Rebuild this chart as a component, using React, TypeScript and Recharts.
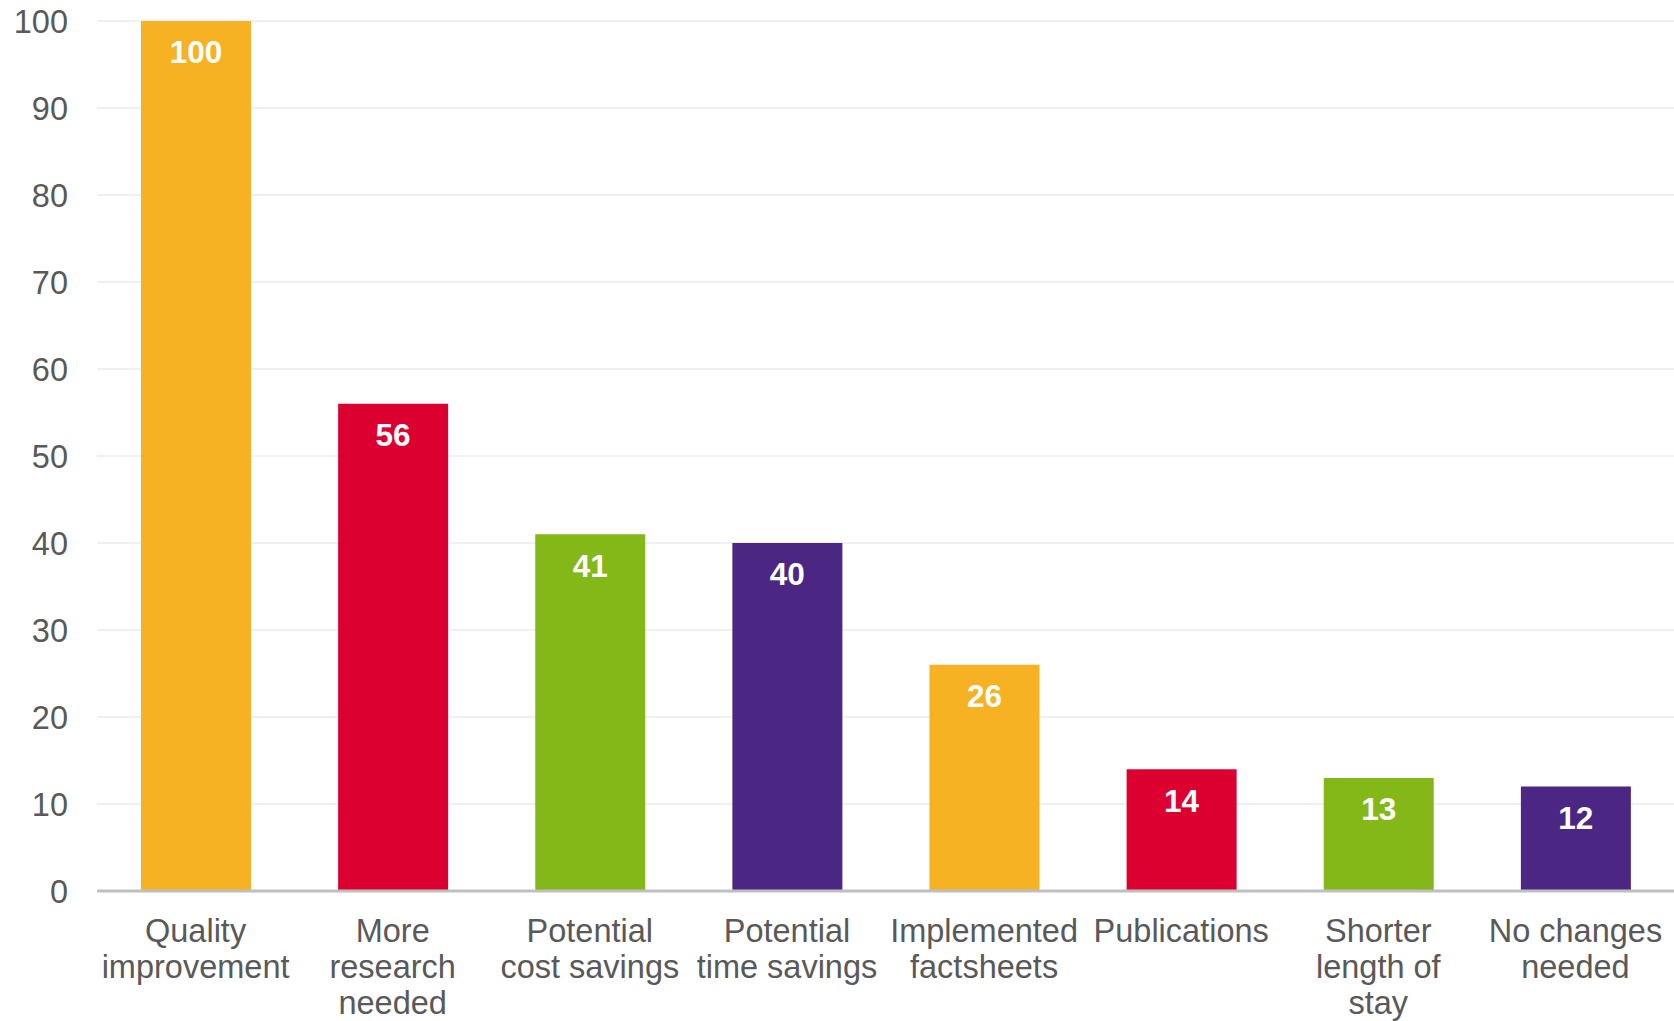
import { Bar, BarChart, CartesianGrid, Cell, LabelList, XAxis, YAxis } from "recharts";

const categories = [
  "Quality improvement",
  "More research needed",
  "Potential cost savings",
  "Potential time savings",
  "Implemented factsheets",
  "Publications",
  "Shorter length of stay",
  "No changes needed",
];

const tickLines = [
  ["Quality", "improvement"],
  ["More", "research", "needed"],
  ["Potential", "cost savings"],
  ["Potential", "time savings"],
  ["Implemented", "factsheets"],
  ["Publications"],
  ["Shorter", "length of", "stay"],
  ["No changes", "needed"],
];

const values = [100, 56, 41, 40, 26, 14, 13, 12];

const barColors = ["#F6B222", "#DC0030", "#84B819", "#4B2682", "#F6B222", "#DC0030", "#84B819", "#4B2682"];

const yTicks = [0, 10, 20, 30, 40, 50, 60, 70, 80, 90, 100];

const data = categories.map((name, i) => ({ name, value: values[i] }));

const FONT = '"Liberation Sans", Arial, sans-serif';

function CategoryTick({ x, y, index }: any) {
  const lines = tickLines[index] || [];
  return (
    <g transform={`translate(${x},${y})`}>
      <text textAnchor="middle" fill="#595959" fontSize={32.5} fontFamily={FONT}>
        {lines.map((line, i) => (
          <tspan key={i} x={0} dy={i === 0 ? 51 : 36}>
            {line}
          </tspan>
        ))}
      </text>
    </g>
  );
}

export default function App() {
  return (
    <div style={{ position: "absolute", left: 0, top: 0, background: "#fff" }}>
      <BarChart
        width={1674}
        height={1021}
        data={data}
        margin={{ top: 21, right: 0, bottom: 0, left: 0 }}
      >
        <CartesianGrid vertical={false} stroke="#F0F0F0" strokeWidth={2} />
        <XAxis
          dataKey="name"
          interval={0}
          tickLine={false}
          tickSize={0}
          tickMargin={0}
          stroke="#BFBFBF"
          strokeWidth={3}
          tick={<CategoryTick />}
          height={130}
        />
        <YAxis
          domain={[0, 100]}
          ticks={yTicks}
          axisLine={false}
          tickLine={false}
          tickMargin={23}
          width={97}
          tick={{ fill: "#595959", fontSize: 32.5, fontFamily: FONT }}
        />
        <Bar dataKey="value" barSize={110} isAnimationActive={false}>
          {data.map((d, i) => (
            <Cell key={d.name} fill={barColors[i]} />
          ))}
          <LabelList
            dataKey="value"
            position="insideTop"
            offset={20}
            fill="#FFFFFF"
            fontSize={31.5}
            fontWeight="bold"
            fontFamily={FONT}
          />
        </Bar>
      </BarChart>
    </div>
  );
}
